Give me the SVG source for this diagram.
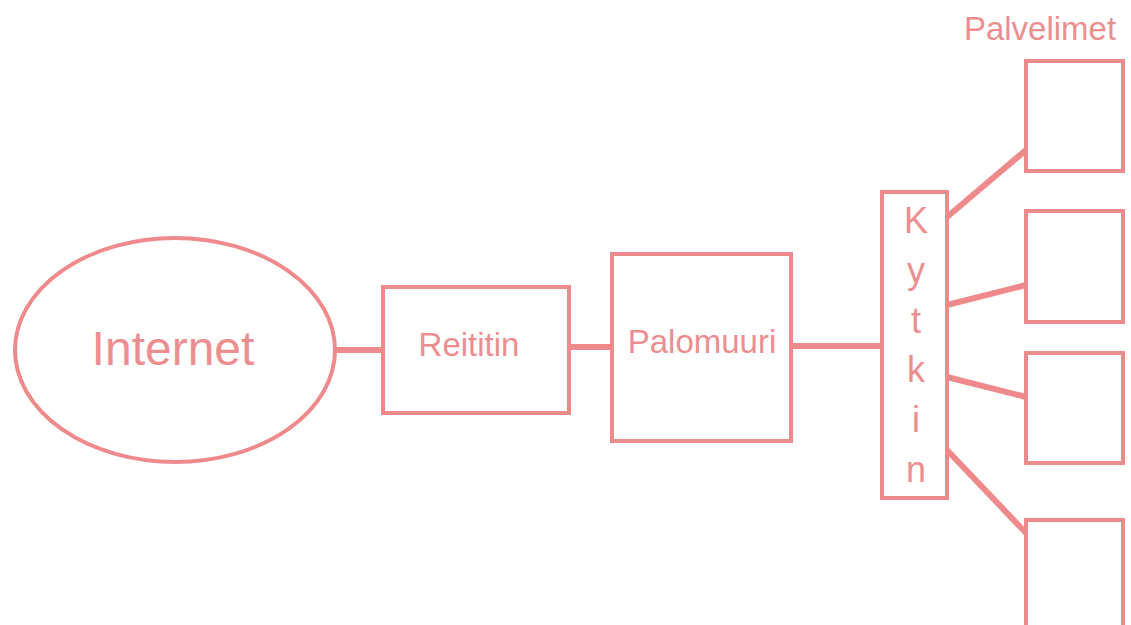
<svg xmlns="http://www.w3.org/2000/svg" width="1131" height="625" viewBox="0 0 1131 625">
  <style>
    .shape { fill: #ffffff; stroke: #ee8a8c; stroke-width: 4; }
    .link { stroke: #ee8a8c; stroke-width: 6; fill: none; }
    .label { fill: #ec8e90; font-family: "Liberation Sans", Arial, sans-serif; }
  </style>
  <rect width="1131" height="625" fill="#ffffff"/>

  <!-- connectors -->
  <g id="connectors">
    <line class="link" x1="334" y1="350" x2="383" y2="350"/>
    <line class="link" x1="569" y1="347" x2="612" y2="347"/>
    <line class="link" x1="791" y1="346" x2="882" y2="346"/>
    <line class="link" x1="947" y1="217" x2="1026" y2="150"/>
    <line class="link" x1="947" y1="305" x2="1026" y2="285"/>
    <line class="link" x1="947" y1="377" x2="1026" y2="397"/>
    <line class="link" x1="947" y1="450" x2="1026" y2="533"/>
  </g>

  <g id="internet">
    <ellipse class="shape" cx="175" cy="350" rx="160" ry="112"/>
    <text class="label" x="173" y="365" font-size="48" text-anchor="middle">Internet</text>
  </g>

  <g id="reititin">
    <rect class="shape" x="383" y="287" width="186" height="126"/>
    <text class="label" x="469" y="356" font-size="33" text-anchor="middle">Reititin</text>
  </g>

  <g id="palomuuri">
    <rect class="shape" x="612" y="254" width="179" height="187"/>
    <text class="label" x="702" y="353" font-size="33" text-anchor="middle">Palomuuri</text>
  </g>

  <g id="kytkin">
    <rect class="shape" x="882" y="192" width="65" height="306"/>
    <g class="label" font-size="36" text-anchor="middle">
      <text x="916" y="233">K</text>
      <text x="916" y="283">y</text>
      <text x="916" y="333">t</text>
      <text x="916" y="382">k</text>
      <text x="916" y="432">i</text>
      <text x="916" y="482">n</text>
    </g>
  </g>

  <g id="palvelimet">
    <text class="label" x="1040" y="40" font-size="33" text-anchor="middle">Palvelimet</text>
  </g>

  <g id="palvelin-1">
    <rect class="shape" x="1026" y="61" width="97" height="110"/>
  </g>
  <g id="palvelin-2">
    <rect class="shape" x="1026" y="211" width="97" height="111"/>
  </g>
  <g id="palvelin-3">
    <rect class="shape" x="1026" y="353" width="97" height="110"/>
  </g>
  <g id="palvelin-4">
    <rect class="shape" x="1026" y="520" width="97" height="130"/>
  </g>
</svg>
